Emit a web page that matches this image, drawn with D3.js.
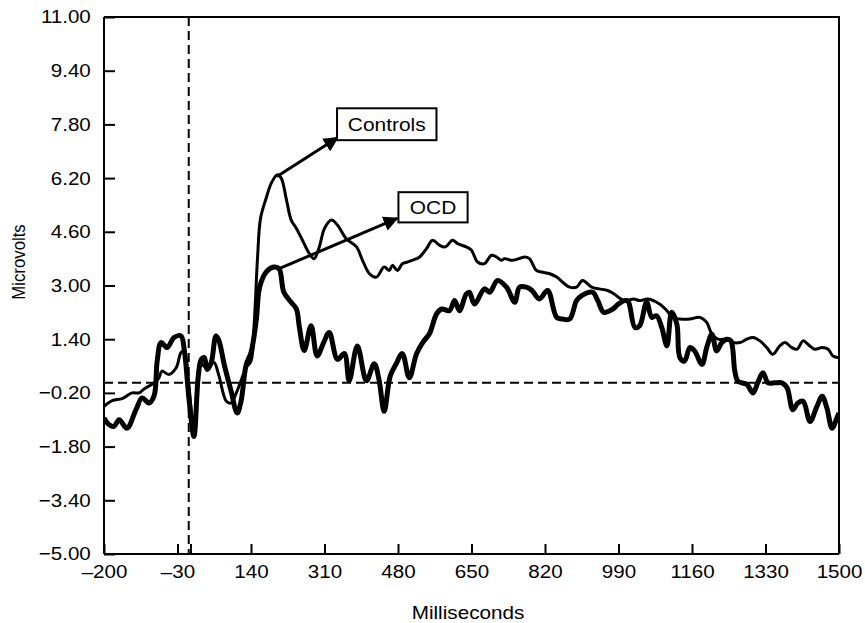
<!DOCTYPE html>
<html lang="en">
<head>
<meta charset="utf-8">
<title>Microvolts vs milliseconds</title>
<script src="https://cdn.jsdelivr.net/npm/d3@7"></script>
<style>
  body { margin: 0; background: #fff; }
  svg { display: block; font-family: "Liberation Sans", Arial, Helvetica, sans-serif; }
  .axis path, .axis line { stroke: #000; stroke-width: 2px; }
  .axis text { font-size: 18.7px; fill: #000; }
</style>
</head>
<body>
<svg class="chart"></svg>
<script>
// ---- data (ms, microvolts) ----
var controls = [[-200,-0.6],[-181,-0.43],[-158,-0.37],[-135,-0.2],[-119,-0.2],[-107,-0.08],[-84,0.1],[-73,0.25],[-66,0.45],[-50,0.35],[-33,0.55],[-22,1.0],[-15,1.05],[-5,0.2],[7,-1.2],[18,0.3],[25,0.67],[36,0.55],[48,0.67],[55,0.7],[66,0.3],[83,-0.45],[94,-0.5],[106,-0.2],[129,0.55],[140,0.75],[148,2.0],[155,3.8],[162,5.0],[175,5.6],[187,6.05],[201,6.3],[210,6.2],[222,5.55],[233,4.95],[245,4.7],[259,4.35],[275,3.95],[286,3.8],[298,4.15],[310,4.7],[326,4.95],[340,4.8],[360,4.4],[384,4.15],[398,3.75],[414,3.35],[430,3.25],[448,3.55],[460,3.45],[467,3.6],[479,3.45],[490,3.65],[502,3.7],[513,3.75],[530,3.85],[546,4.1],[560,4.35],[576,4.2],[590,4.15],[606,4.35],[618,4.25],[638,4.15],[650,4.05],[664,3.7],[680,3.65],[696,3.9],[708,3.85],[719,3.75],[726,3.8],[745,3.75],[773,3.85],[784,3.8],[800,3.45],[812,3.4],[831,3.35],[847,3.25],[865,3.05],[877,2.95],[893,2.95],[907,3.15],[928,2.95],[945,2.9],[965,2.85],[980,2.75],[995,2.6],[1010,2.55],[1025,2.6],[1039,2.55],[1058,2.6],[1085,2.45],[1102,2.25],[1115,2.05],[1132,2.0],[1155,2.0],[1178,2.05],[1194,1.9],[1206,1.55],[1220,1.4],[1241,1.4],[1255,1.3],[1271,1.3],[1287,1.4],[1301,1.45],[1317,1.35],[1333,1.15],[1347,0.95],[1363,1.2],[1375,1.3],[1391,1.15],[1403,1.1],[1417,1.35],[1428,1.25],[1444,1.1],[1461,1.15],[1475,1.1],[1486,0.9],[1500,0.85]];

var ocd = [[-200,-0.95],[-188,-1.15],[-177,-1.2],[-165,-1.0],[-147,-1.25],[-126,-0.7],[-112,-0.35],[-96,-0.5],[-84,-0.28],[-77,0.75],[-68,1.3],[-54,1.15],[-38,1.45],[-22,1.5],[-15,1.15],[-3,-0.43],[8,-1.5],[18,0.3],[25,0.8],[32,0.85],[39,0.5],[48,0.7],[59,1.5],[66,1.35],[78,0.65],[94,-0.15],[108,-0.8],[117,-0.45],[129,0.65],[140,1.0],[152,1.95],[160,2.95],[175,3.4],[193,3.55],[205,3.5],[216,2.8],[233,2.5],[245,2.3],[252,1.75],[263,1.06],[279,1.8],[293,0.9],[308,1.3],[321,1.6],[340,0.8],[356,0.97],[367,0.16],[386,1.2],[407,0.16],[425,0.67],[436,0.2],[448,-0.75],[462,0.3],[476,0.67],[490,0.97],[506,0.25],[523,0.97],[537,1.3],[553,1.57],[569,2.15],[581,2.3],[599,2.25],[611,2.55],[622,2.25],[638,2.75],[645,2.8],[657,2.45],[680,2.9],[692,2.8],[710,3.15],[731,2.95],[750,2.5],[761,2.95],[777,2.95],[790,2.85],[807,2.6],[826,2.85],[847,2.05],[861,2.0],[877,2.0],[893,2.55],[905,2.7],[930,2.8],[942,2.55],[956,2.2],[977,2.3],[990,2.45],[1010,2.55],[1028,1.75],[1039,1.8],[1055,2.5],[1067,2.05],[1078,2.1],[1090,1.75],[1102,1.2],[1113,2.2],[1125,1.85],[1132,0.85],[1143,0.75],[1155,1.15],[1166,1.05],[1183,0.65],[1194,1.15],[1206,1.55],[1217,1.05],[1229,1.3],[1241,1.4],[1250,1.35],[1259,0.45],[1266,0.15],[1287,0.05],[1301,-0.2],[1312,0.1],[1324,0.4],[1336,0.1],[1352,0.1],[1368,0.1],[1380,-0.05],[1393,-0.7],[1405,-0.5],[1417,-0.45],[1433,-1.05],[1449,-0.6],[1461,-0.3],[1472,-0.65],[1484,-1.25],[1495,-0.95],[1500,-0.8]];

var xTicks = [-200, -30, 140, 310, 480, 650, 820, 990, 1160, 1330, 1500];
var yTicks = [-5, -3.4, -1.8, -0.2, 1.4, 3, 4.6, 6.2, 7.8, 9.4, 11];
var refMs = -4, refUv = 0.1;   // dashed stimulus / baseline lines

// label callouts: arrow from curve peak to box corner, box in data units
var callouts = [
  {text: "Controls", from: [200, 6.25], to: [340, 7.4], box: [339, 8.28, 569, 7.33]},
  {text: "OCD",      from: [205, 3.5],  to: [478, 5.0], box: [481, 5.78, 641, 4.88]}
];

var W = 865, H = 623;
var margin = {top: 17, right: 26, bottom: 69, left: 104},
    width = W - margin.left - margin.right,
    height = H - margin.top - margin.bottom;
var SX = 1.1; // text in the picture is a bit wide

var x = d3.scaleLinear().domain([-200, 1500]).range([0, width]);
var y = d3.scaleLinear().domain([-5, 11]).range([height, 0]);

var fmt = function(v) { return d3.format(".2f")(v).replace("-", "\u2013"); };

var svg = d3.select(".chart").attr("width", W).attr("height", H);
var chart = svg.append("g")
    .attr("transform", "translate(" + margin.left + "," + margin.top + ")");

svg.append("defs").append("clipPath").attr("id", "clip")
  .append("rect").attr("width", width).attr("height", height);
svg.select("defs").append("marker")
    .attr("id", "arrow").attr("viewBox", "0 0 10 10")
    .attr("refX", 9).attr("refY", 5)
    .attr("markerWidth", 5).attr("markerHeight", 5)
    .attr("markerUnits", "strokeWidth")
    .attr("orient", "auto")
  .append("path").attr("d", "M0,0L10,5L0,10z").attr("fill", "#000");

// frame (top + right)
chart.append("path")
    .attr("d", "M0,0H" + width + "V" + height)
    .attr("fill", "none").attr("stroke", "#000").attr("stroke-width", 2);

var xAxis = d3.axisBottom(x).tickValues(xTicks.concat([0])).tickSize(-10).tickPadding(11)
    .tickFormat(function(d) { return d === 0 ? "" : String(d).replace("-", "\u2013"); });
var yAxis = d3.axisLeft(y).tickValues(yTicks).tickSize(-11).tickPadding(12).tickFormat(fmt);

chart.append("g").attr("class", "x axis")
    .attr("transform", "translate(0," + height + ")")
    .call(xAxis)
    .call(function(g) { g.select(".domain").attr("d", "M0,0H" + width); });
chart.append("g").attr("class", "y axis")
    .call(yAxis)
    .call(function(g) { g.select(".domain").attr("d", "M0," + height + "V0"); });

chart.selectAll(".axis text").each(function() {
  d3.select(this).attr("transform", "scale(" + SX + ",1)");
});

// dashed reference lines
chart.append("line")
    .attr("x1", x(refMs)).attr("x2", x(refMs)).attr("y1", 0).attr("y2", height)
    .attr("stroke", "#000").attr("stroke-width", 2).attr("stroke-dasharray", "9,5");
chart.append("line")
    .attr("x1", 0).attr("x2", width).attr("y1", y(refUv)).attr("y2", y(refUv))
    .attr("stroke", "#000").attr("stroke-width", 2).attr("stroke-dasharray", "9,5");

var line = d3.line()
    .x(function(d) { return x(d[0]); })
    .y(function(d) { return y(d[1]); })
    .curve(d3.curveCatmullRom.alpha(0.5));

var plot = chart.append("g").attr("clip-path", "url(#clip)");
plot.append("path").datum(ocd)
    .attr("fill", "none").attr("stroke", "#000").attr("stroke-width", 5)
    .attr("stroke-linejoin", "round").attr("d", line);
plot.append("path").datum(controls)
    .attr("fill", "none").attr("stroke", "#000").attr("stroke-width", 3)
    .attr("stroke-linejoin", "round").attr("d", line);

// callouts
callouts.forEach(function(c) {
  chart.append("line")
      .attr("x1", x(c.from[0])).attr("y1", y(c.from[1]))
      .attr("x2", x(c.to[0])).attr("y2", y(c.to[1]))
      .attr("stroke", "#000").attr("stroke-width", 3)
      .attr("marker-end", "url(#arrow)");
  var bx = x(c.box[0]), by = y(c.box[1]), bw = x(c.box[2]) - bx, bh = y(c.box[3]) - by;
  chart.append("rect")
      .attr("x", bx).attr("y", by).attr("width", bw).attr("height", bh)
      .attr("fill", "#fff").attr("stroke", "#000").attr("stroke-width", 2);
  chart.append("text")
      .attr("transform", "translate(" + (bx + bw / 2) + "," + (by + bh / 2) + ") scale(" + SX + ",1)")
      .attr("dy", "0.36em").attr("text-anchor", "middle")
      .style("font-size", "19px").text(c.text);
});

// axis titles
svg.append("text")
    .attr("transform", "translate(468,619) scale(" + SX + ",1)")
    .attr("text-anchor", "middle").style("font-size", "18.8px")
    .text("Milliseconds");
svg.append("text")
    .attr("transform", "translate(25,262) scale(" + SX + ",1) rotate(-90)")
    .attr("text-anchor", "middle").style("font-size", "16.8px")
    .text("Microvolts");
</script>
</body>
</html>
